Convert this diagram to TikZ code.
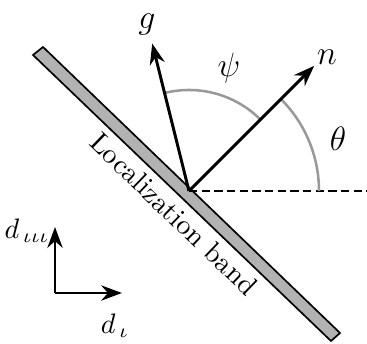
\documentclass[tikz,border=0pt]{standalone}
\usepackage{amsmath}
\usepackage{tikz}
\usetikzlibrary{arrows.meta,calc,positioning}
\tikzset{
  vec/.style={-{Stealth[length=2.6mm,width=1.9mm]},line width=1.05pt,black},
  anglearc/.style={line width=0.9pt,gray!80},
  refline/.style={line width=0.8pt,dash pattern=on 3pt off 1.5pt},
  band/.style={draw=black,line width=0.6pt,fill=gray!60},
  veclabel/.style={inner sep=1pt,font=\large}
}

\begin{document}
\begin{tikzpicture}[x=0.0125cm,y=0.0125cm]
  \useasboundingbox (0,0) rectangle (367,343);
  % localization band
  \coordinate (b1) at (33,288);
  \coordinate (b2) at (43,296);
  \coordinate (b3) at (340,10);
  \coordinate (b4) at (331,2);
  \draw[band] (b1) -- (b2) -- (b3) -- (b4) -- cycle;
  \node[rotate=-43.9] (bandlabel) at (174,129) {Localization band};
  % vectors
  \coordinate (o) at (189,152);
  \coordinate (ntip) at ($(o)+(45:177)$);
  \coordinate (gtip) at ($(o)+(104:152)$);
  \coordinate (xend) at (367,152);
  \draw[refline] (o) -- (xend);
  \draw[anglearc] ($(o)+(0:130)$) arc[start angle=0,end angle=45,radius=130];
  \draw[anglearc] ($(o)+(45:101)$) arc[start angle=45,end angle=104,radius=101];
  \draw[vec] (o) -- (ntip);
  \draw[vec] (o) -- (gtip);
  \node[veclabel] (nlab) at (327,286) {$n$};
  \node[veclabel] (glab) at (147,318) {$g$};
  \node[veclabel] (psilab) at (229,275) {$\psi$};
  \node[veclabel] (thetalab) at (338,204) {$\theta$};
  % directions
  \coordinate (d0) at (55,50);
  \coordinate (d3) at (55,116);
  \coordinate (d1) at (122,50);
  \draw[vec] (d0) -- (d3);
  \draw[vec] (d0) -- (d1);
  \node[veclabel,font=\normalsize] (d3lab) at (27,112) {$d_{\,\iota\iota\iota}$};
  \node[veclabel,font=\normalsize] (d1lab) at (115,17) {$d_{\,\iota}$};
\end{tikzpicture}
\end{document}
